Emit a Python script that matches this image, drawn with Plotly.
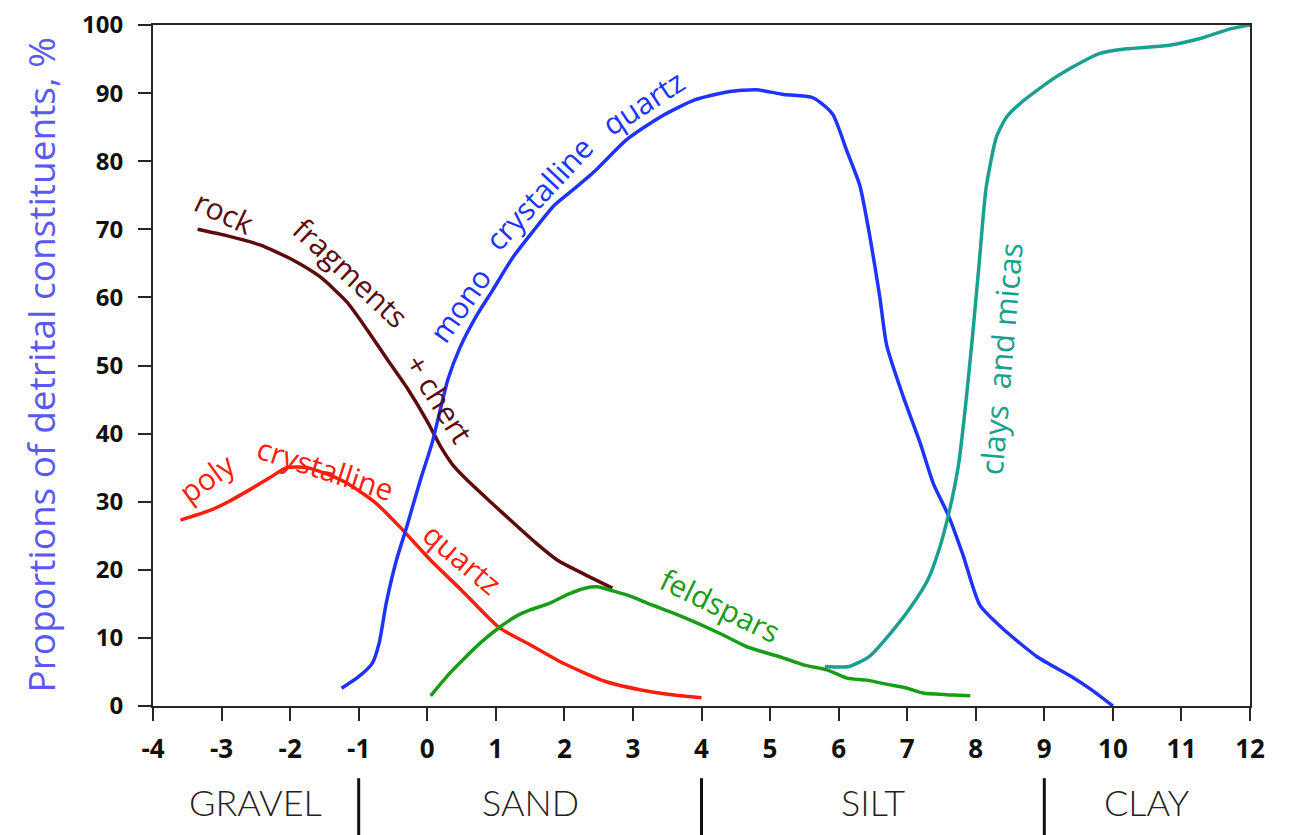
import plotly.graph_objects as go

# ---------------- data ----------------
rock_x = [-3.35, -2.9, -2.44, -1.96, -1.56, -1.17, -0.88, -0.59, -0.3, 0.0, 0.2, 0.38, 0.6, 0.92, 1.3, 1.6, 1.9, 2.3, 2.7]
rock_y = [70.0, 69.0, 67.7, 65.5, 63.0, 59.3, 55.3, 51.0, 46.8, 41.8, 38.0, 35.3, 33.0, 30.0, 26.5, 23.8, 21.4, 19.3, 17.3]

poly_x = [-3.6, -3.2, -2.9, -2.6, -2.3, -2.05, -1.75, -1.45, -1.15, -0.75, -0.4, 0.05, 0.5, 1.05, 1.5, 2.0, 2.6, 3.2, 3.6, 4.0]
poly_y = [27.3, 28.6, 30.0, 31.7, 33.5, 35.0, 35.0, 34.0, 32.6, 29.8, 26.3, 21.4, 17.0, 11.5, 9.0, 6.2, 3.6, 2.2, 1.6, 1.2]

mono_x = [-1.25, -1.0, -0.8, -0.7, -0.6, -0.45, -0.3, -0.1, 0.07, 0.3, 0.48, 0.73, 0.95, 1.25, 1.55, 1.85,
          2.15, 2.45, 2.9, 3.4, 3.9, 4.4, 4.8, 5.2, 5.6, 5.75, 5.92, 6.12, 6.31, 6.46, 6.6, 6.7, 6.94,
          7.19, 7.38, 7.6, 7.81, 8.06, 8.4, 8.9, 9.4, 9.7, 10.0]
mono_y = [2.6, 4.3, 6.3, 9.3, 15.0, 21.4, 26.3, 33.2, 38.6, 47.9, 52.7, 57.5, 61.0, 65.9, 69.8, 73.5,
          76.0, 78.6, 83.1, 86.5, 89.0, 90.2, 90.5, 89.8, 89.4, 88.5, 86.8, 81.5, 76.4, 68.7, 60.1, 53.0, 45.5,
          38.6, 32.7, 28.0, 22.3, 14.8, 11.3, 7.2, 4.3, 2.3, 0.0]

feld_x = [0.05, 0.3, 0.52, 0.8, 1.06, 1.3, 1.5, 1.79, 2.05, 2.3, 2.48, 2.71, 3.0, 3.21, 3.6, 3.93, 4.3,
          4.66, 5.15, 5.5, 5.83, 6.12, 6.41, 6.75, 7.0, 7.23, 7.67, 7.92]
feld_y = [1.5, 4.5, 6.8, 9.5, 11.6, 13.2, 14.1, 15.1, 16.4, 17.3, 17.5, 16.9, 16.0, 15.1, 13.6, 12.2, 10.5,
          8.7, 7.2, 6.0, 5.3, 4.1, 3.8, 3.1, 2.6, 1.9, 1.6, 1.5]

clay_x = [5.8, 6.15, 6.45, 6.75, 7.05, 7.3, 7.45, 7.6, 7.75, 7.85, 7.95, 8.05, 8.15, 8.3, 8.45, 8.65,
          9.1, 9.5, 9.8, 10.2, 10.8, 11.3, 11.7, 12.0]
clay_y = [5.8, 5.8, 7.3, 10.6, 14.5, 18.5, 22.5, 28.0, 35.5, 44.0, 54.0, 65.0, 76.0, 83.5, 86.5, 88.5,
          91.9, 94.3, 95.8, 96.5, 97.0, 98.1, 99.4, 100.0]

x_tick_vals = list(range(-4, 13))
x_tick_text = ["-4", "-3", "-2", "-1", "0", "1", "2", "3", "4", "5", "6", "7", "8", "9", "10", "11", "12"]
y_tick_vals = list(range(0, 101, 10))

class_names = ["GRAVEL", "SAND", "SILT", "CLAY"]
class_bounds = [-4, -1, 4, 9, 12]

# ---------------- styles ----------------
C_ROCK = "#5c0c0c"
C_POLY = "#ff1e0e"
C_MONO = "#1f33ff"
C_FELD = "#1a9c1a"
C_CLAY = "#1aa08e"
AX = "#262626"
FONT = "Open Sans"

fig = go.Figure()
for xs, ys, col in [(rock_x, rock_y, C_ROCK), (poly_x, poly_y, C_POLY), (mono_x, mono_y, C_MONO),
                    (feld_x, feld_y, C_FELD), (clay_x, clay_y, C_CLAY)]:
    fig.add_trace(go.Scatter(x=xs, y=ys, mode="lines", line=dict(color=col, width=3.5, shape="spline", smoothing=0.6),
                             showlegend=False, hoverinfo="skip"))

def lab(text, x, y, ang, col, size=30):
    fig.add_annotation(x=x, y=y, xref="x", yref="y", text=text, textangle=ang, showarrow=False,
                       font=dict(family=FONT, size=size, color=col), xanchor="center", yanchor="middle")

# curved labels (word by word)
lab("rock", -2.95, 72.5, 25, C_ROCK)
lab("fragments", -1.12, 63.6, 43, C_ROCK)
lab("+ chert", 0.18, 45.2, 58, C_ROCK)

lab("mono", 0.48, 58.9, -55, C_MONO)
lab("crystalline", 1.62, 75.3, -47, C_MONO)
lab("quartz", 3.15, 88.6, -33, C_MONO)

lab("poly", -3.21, 33.5, -36, C_POLY)
lab("crystalline", -1.49, 34.9, 18, C_POLY)
lab("quartz", 0.51, 21.6, 40, C_POLY)

lab("feldspars", 4.28, 14.8, 26, C_FELD)
lab("clays  and micas", 8.36, 51.0, -85, C_CLAY, size=31)

# y-axis title
fig.add_annotation(x=-0.103, y=0.5, xref="paper", yref="paper", text="Proportions of detrital constituents, %",
                   textangle=-90, showarrow=False, font=dict(family=FONT, size=37, color="#5a5af2"),
                   xanchor="center", yanchor="middle")

# grain-size classes below the axis
for i, name in enumerate(class_names):
    mid = (class_bounds[i] + class_bounds[i + 1]) / 2
    fig.add_annotation(x=mid, y=-0.141, xref="x", yref="paper", text=name, showarrow=False,
                       font=dict(family="Lato", size=36, color="#222222", weight=300),
                       xanchor="center", yanchor="middle")
for b in class_bounds[1:-1]:
    fig.add_shape(type="line", x0=b, x1=b, y0=-0.106, y1=-0.2, xref="x", yref="paper",
                  line=dict(color="#111111", width=3))

fig.update_layout(
    width=1288, height=827,
    margin=dict(l=145, r=46, t=17, b=129, autoexpand=False),
    paper_bgcolor="white", plot_bgcolor="white",
    xaxis=dict(range=[-4, 12], tickvals=x_tick_vals, ticktext=x_tick_text, ticks="outside", ticklen=13,
               tickwidth=2, tickcolor=AX, showline=True, linewidth=2, linecolor=AX, mirror=True,
               showgrid=False, zeroline=False, ticklabelstandoff=6, ticklabeloverflow="allow",
               automargin=False,
               tickfont=dict(family=FONT, size=26, color="#111111", weight="bold")),
    yaxis=dict(range=[0, 100], tickvals=y_tick_vals, ticks="outside", ticklen=13,
               tickwidth=2, tickcolor=AX, showline=True, linewidth=2, linecolor=AX, mirror=True,
               showgrid=False, zeroline=False, ticklabelstandoff=10, ticklabeloverflow="allow",
               automargin=False,
               tickfont=dict(family=FONT, size=24, color="#111111", weight="bold")),
)

fig.write_html("out.html")
